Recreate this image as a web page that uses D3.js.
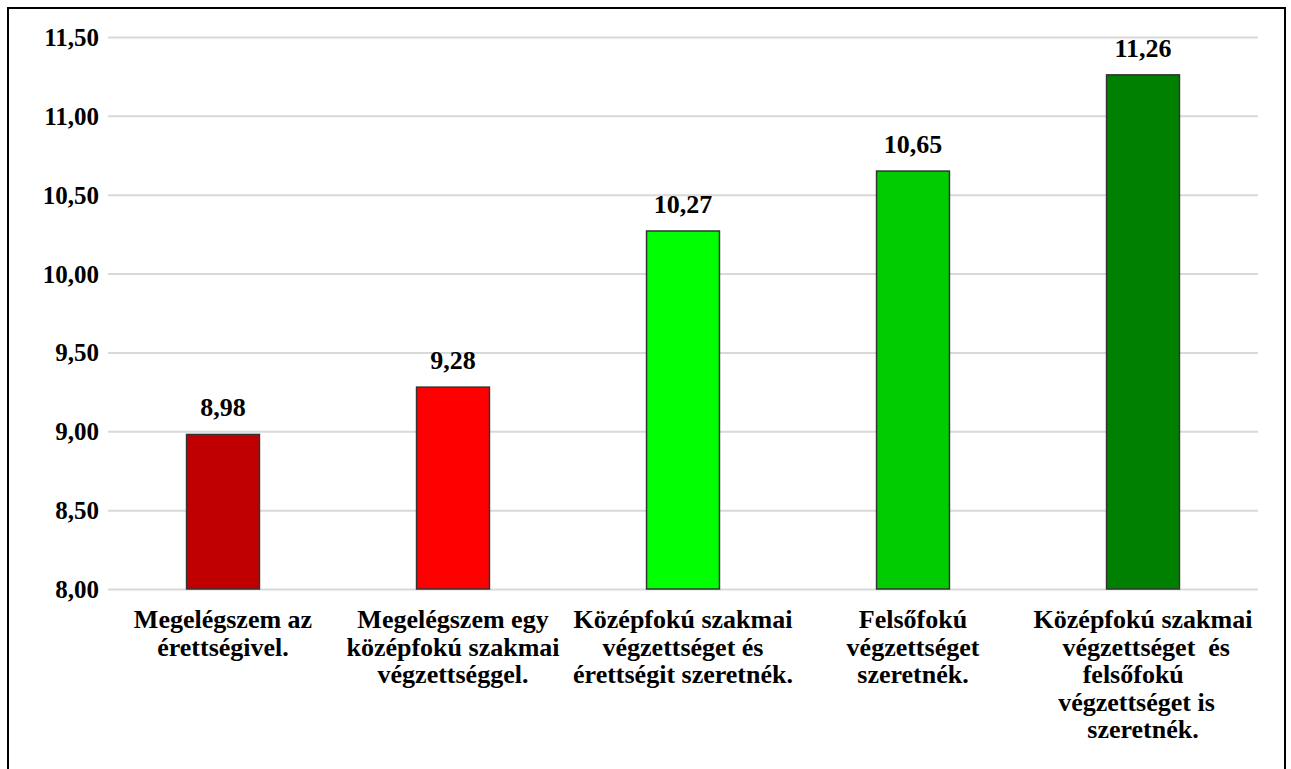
<!DOCTYPE html>
<html>
<head>
<meta charset="utf-8">
<script src="https://cdn.jsdelivr.net/npm/d3@7/dist/d3.min.js"></script>
<style>
  body { margin: 0; background: #fff; }
</style>
</head>
<body>
<div id="chart"></div>
<script>
// chart data
const categories = [
  ['Megelégszem az', 'érettségivel.'],
  ['Megelégszem egy', 'középfokú szakmai', 'végzettséggel.'],
  ['Középfokú szakmai', 'végzettséget és', 'érettségit szeretnék.'],
  ['Felsőfokú', 'végzettséget', 'szeretnék.'],
  ['Középfokú szakmai', ' végzettséget  és', 'felsőfokú   ', 'végzettséget is  ', 'szeretnék.']
];
const values = [8.98, 9.28, 10.27, 10.65, 11.26];
const barColors = ['#C00000', '#FF0000', '#00FF00', '#00CC00', '#008000'];
const yTicks = [8, 8.5, 9, 9.5, 10, 10.5, 11, 11.5];

const width = 1291;
const height = 769;
const plot = { left: 108, right: 1258, top: 37, bottom: 589 };
const fontFamily = "'Liberation Serif', 'Times New Roman', Times, serif";

const fmt = v => v.toFixed(2).replace('.', ',');

const svg = d3.select('#chart')
  .append('svg')
    .attr('width', width)
    .attr('height', height)
    .attr('font-family', fontFamily)
    .attr('font-weight', 'bold');

// outer frame (bottom edge falls outside the picture)
svg.append('rect')
  .attr('x', 8)
  .attr('y', 8)
  .attr('width', 1277)
  .attr('height', 800)
  .attr('fill', 'none')
  .attr('stroke', '#000')
  .attr('stroke-width', 2);

const scaleY = d3.scaleLinear()
  .domain([8, 11.5])
  .range([plot.bottom, plot.top]);

const scaleX = d3.scaleBand()
  .domain(d3.range(values.length))
  .range([plot.left, plot.right])
  .padding(0);

const barWidth = scaleX.bandwidth() * 0.317;

// gridlines + tick labels
const yAxis = d3.axisLeft(scaleY)
  .tickValues(yTicks)
  .tickSize(-(plot.right - plot.left))
  .tickPadding(9)
  .tickFormat(fmt);

const gy = svg.append('g')
  .attr('transform', 'translate(' + plot.left + ',0)')
  .call(yAxis)
  .attr('font-family', fontFamily)
  .attr('font-size', 25);

gy.select('.domain').remove();
gy.selectAll('.tick line')
  .attr('stroke', '#d9d9d9')
  .attr('stroke-width', 2);
gy.selectAll('.tick text')
  .attr('fill', '#000')
  .attr('dy', '0.34em');

// bars
svg.append('g')
  .selectAll('rect')
  .data(values)
  .enter()
  .append('rect')
    .attr('x', (d, i) => scaleX(i) + scaleX.bandwidth() / 2 - barWidth / 2)
    .attr('y', d => scaleY(d))
    .attr('width', barWidth)
    .attr('height', d => scaleY(8) - scaleY(d))
    .attr('fill', (d, i) => barColors[i])
    .attr('stroke', '#333')
    .attr('stroke-width', 1.5);

// value labels
svg.append('g')
  .selectAll('text')
  .data(values)
  .enter()
  .append('text')
    .attr('x', (d, i) => scaleX(i) + scaleX.bandwidth() / 2)
    .attr('y', d => scaleY(d) - 18)
    .attr('text-anchor', 'middle')
    .attr('font-size', 26)
    .text(d => fmt(d));

// category labels
const catGroup = svg.append('g');
categories.forEach((lines, i) => {
  const t = catGroup.append('text')
    .attr('text-anchor', 'middle')
    .attr('font-size', 26)
    .style('white-space', 'pre');
  lines.forEach((line, j) => {
    t.append('tspan')
      .attr('x', scaleX(i) + scaleX.bandwidth() / 2)
      .attr('y', 628 + j * 27.5)
      .text(line);
  });
});
</script>
</body>
</html>
